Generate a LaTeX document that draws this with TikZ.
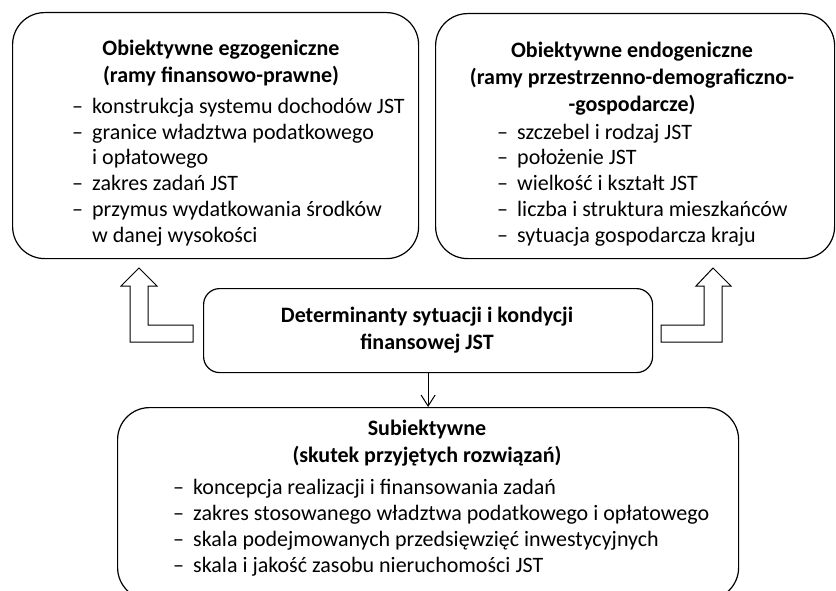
\documentclass[tikz,border=0pt]{standalone}
\usepackage{fontspec}
\setmainfont{Carlito}
\usetikzlibrary{arrows.meta}
\newcommand\dashitem[2]{\makebox[#1][l]{–}#2}
\begin{document}
\begin{tikzpicture}[x=1pt,y=-1pt,
  box/.style={draw, line width=1.2pt, rounded corners=32pt, inner sep=0pt, anchor=north west},
  midbox/.style={draw, line width=1.2pt, rounded corners=16pt, inner sep=0pt, anchor=north west},
  ttl/.style={font={\fontsize{22}{27}\selectfont\bfseries}, align=center, inner sep=0pt, anchor=base},
  lst/.style={font={\fontsize{22}{25.7}\selectfont}, align=left, inner sep=0pt, anchor=base west},
  blk/.style={draw, line width=1pt, line join=miter}]
\useasboundingbox (0,0) rectangle (836,591);
% boxes
\node[box, minimum width=406pt, minimum height=246pt] (b1) at (12,12) {};
\node[box, minimum width=399pt, minimum height=245pt] (b2) at (435,13) {};
\node[midbox, minimum width=449pt, minimum height=84pt] (mid) at (203,288) {};
\node[box, minimum width=621pt, minimum height=192pt] (b3) at (117,407) {};
% box 1 text (anchors at last baseline)
\node[ttl] (t1) at (221,83) {Obiektywne egzogeniczne\\(ramy finansowo-prawne)};
\node[lst] (l1) at (72,242) {\dashitem{20pt}{konstrukcja systemu dochodów JST}\\
\dashitem{20pt}{granice władztwa podatkowego}\\
\hspace*{20pt}i opłatowego\\
\dashitem{20pt}{zakres zadań JST}\\
\dashitem{20pt}{przymus wydatkowania środków}\\
\hspace*{20pt}w danej wysokości};
% box 2 text
\node[ttl] (t2) at (632,112) {Obiektywne endogeniczne\\(ramy przestrzenno-demograficzno-\\-gospodarcze)};
\node[lst] (l2) at (497,242) {\dashitem{20pt}{szczebel i rodzaj JST}\\
\dashitem{20pt}{położenie JST}\\
\dashitem{20pt}{wielkość i kształt JST}\\
\dashitem{20pt}{liczba i struktura mieszkańców}\\
\dashitem{20pt}{sytuacja gospodarcza kraju}};
% middle text
\node[ttl] (tm) at (427,349) {Determinanty sytuacji i kondycji\\finansowej JST};
% bottom text
\node[ttl] (t3) at (427,462) {Subiektywne\\(skutek przyjętych rozwiązań)};
\node[lst] (l3) at (173,572) {\dashitem{20pt}{koncepcja realizacji i finansowania zadań}\\
\dashitem{20pt}{zakres stosowanego władztwa podatkowego i opłatowego}\\
\dashitem{20pt}{skala podejmowanych przedsięwzięć inwestycyjnych}\\
\dashitem{20pt}{skala i jakość zasobu nieruchomości JST}};
% down arrow
\draw[line width=1pt, -{Straight Barb[length=11pt,width=14pt]}] (mid.south) -- (b3.north);
% block arrows
\draw[blk] (193,342) -- (130,342) -- (130,286) -- (121,286) -- (139,268) -- (157,286) -- (148,286) -- (148,325) -- (193,325) -- cycle;
\draw[blk] (661,325) -- (704,325) -- (704,286) -- (696,286) -- (713,268) -- (731,286) -- (722,286) -- (722,342) -- (661,342) -- cycle;
\end{tikzpicture}
\end{document}
